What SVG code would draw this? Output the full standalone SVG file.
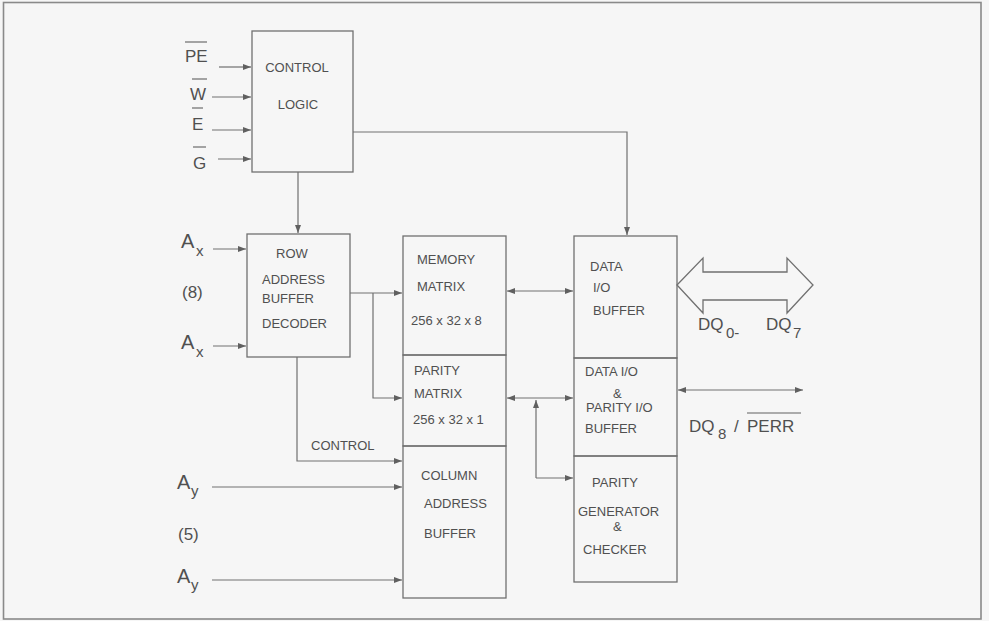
<svg xmlns="http://www.w3.org/2000/svg" width="989" height="621" viewBox="0 0 989 621">
<defs>
<marker id="ah" viewBox="0 0 8 6" refX="8" refY="3" markerWidth="8" markerHeight="6" markerUnits="userSpaceOnUse" orient="auto-start-reverse">
<path d="M0,0 L8,3 L0,6 z" fill="#606060"/>
</marker>
<style>
.bx{fill:none;stroke:#707070;stroke-width:1.3}
.ln{fill:none;stroke:#707070;stroke-width:1.2}
.ar{fill:none;stroke:#707070;stroke-width:1.2;marker-end:url(#ah)}
.ar2{fill:none;stroke:#707070;stroke-width:1.2;marker-end:url(#ah);marker-start:url(#ah)}
.t{font-family:"Liberation Sans",Arial,sans-serif;font-size:13px;fill:#505050}
.big{font-family:"Liberation Sans",Arial,sans-serif;font-size:17px;fill:#505050}
.A{font-family:"Liberation Sans",Arial,sans-serif;font-size:20px;fill:#505050}
.sub{font-family:"Liberation Sans",Arial,sans-serif;font-size:15px;fill:#505050}
.ov{stroke:#606060;stroke-width:1.1}
</style>
</defs>
<rect x="0" y="0" width="989" height="621" fill="#f6f6f6"/>
<rect x="3.5" y="2.5" width="977.5" height="616.5" fill="none" stroke="#8a8a8a" stroke-width="1.6"/>

<g id="control-logic">
<rect class="bx" x="252" y="31" width="101" height="141"/>
<text class="t" x="297" y="71.5" text-anchor="middle">CONTROL</text>
<text class="t" x="298" y="108.5" text-anchor="middle">LOGIC</text>
</g>

<g id="row-address">
<rect class="bx" x="247" y="234" width="103" height="123"/>
<text class="t" x="292" y="257.5" text-anchor="middle">ROW</text>
<text class="t" x="262" y="283.5">ADDRESS</text>
<text class="t" x="262" y="302.5">BUFFER</text>
<text class="t" x="262" y="327.5">DECODER</text>
</g>

<g id="memory-matrix">
<rect class="bx" x="403" y="236" width="103" height="119"/>
<text class="t" x="417" y="263.5">MEMORY</text>
<text class="t" x="417" y="290.5">MATRIX</text>
<text class="t" x="411" y="324.5">256 x 32 x 8</text>
</g>

<g id="parity-matrix">
<rect class="bx" x="403" y="355" width="103" height="91"/>
<text class="t" x="414" y="374.5">PARITY</text>
<text class="t" x="414" y="397.5">MATRIX</text>
<text class="t" x="413" y="423.5">256 x 32 x 1</text>
</g>

<g id="column-address">
<rect class="bx" x="403" y="446" width="103" height="152"/>
<text class="t" x="421" y="479.5">COLUMN</text>
<text class="t" x="424" y="507.5">ADDRESS</text>
<text class="t" x="424" y="537.5">BUFFER</text>
</g>

<g id="data-io">
<rect class="bx" x="574" y="236" width="103" height="122"/>
<text class="t" x="590" y="270.5">DATA</text>
<text class="t" x="593" y="291.5">I/O</text>
<text class="t" x="593" y="314.5">BUFFER</text>
</g>

<g id="data-parity-io">
<rect class="bx" x="574" y="358" width="103" height="98"/>
<text class="t" x="585" y="375.5">DATA I/O</text>
<text class="t" x="613" y="397.5">&amp;</text>
<text class="t" x="586" y="411.5">PARITY I/O</text>
<text class="t" x="585" y="432.5">BUFFER</text>
</g>

<g id="parity-generator">
<rect class="bx" x="574" y="456" width="103" height="126"/>
<text class="t" x="592" y="486.5">PARITY</text>
<text class="t" x="578" y="515.5">GENERATOR</text>
<text class="t" x="613" y="530.5">&amp;</text>
<text class="t" x="583" y="553.5">CHECKER</text>
</g>

<g id="inputs">
<text class="big" x="185" y="62">PE</text>
<line class="ov" x1="185" y1="42" x2="207" y2="42"/>
<text class="big" x="190" y="100">W</text>
<line class="ov" x1="192" y1="79" x2="207" y2="79"/>
<text class="big" x="192" y="130">E</text>
<line class="ov" x1="192" y1="108" x2="203" y2="108"/>
<text class="big" x="193" y="169">G</text>
<line class="ov" x1="193" y1="147" x2="206" y2="147"/>
<text class="A" x="181" y="248">A</text><text class="sub" x="196" y="256">x</text>
<text class="big" x="182" y="298">(8)</text>
<text class="A" x="181" y="349">A</text><text class="sub" x="196" y="357">x</text>
<text class="t" x="311" y="450">CONTROL</text>
<text class="A" x="177" y="489">A</text><text class="sub" x="191" y="496">y</text>
<text class="big" x="178" y="540">(5)</text>
<text class="A" x="177" y="583">A</text><text class="sub" x="191" y="590">y</text>
</g>

<g id="outputs">
<polygon points="677,285 703,258 703,272 787,272 787,258 813,285 787,313 787,300 703,300 703,313" fill="none" stroke="#707070" stroke-width="1.3"/>
<text class="big" x="698" y="330">DQ</text><text class="sub" x="726" y="338">0-</text>
<text class="big" x="766" y="330">DQ</text><text class="sub" x="793" y="338">7</text>
<text class="big" x="689" y="432">DQ</text><text class="sub" x="718" y="439">8</text>
<text class="big" x="734" y="432" font-size="15">/</text>
<text class="big" x="747" y="432">PERR</text>
<line class="ov" x1="747" y1="413" x2="801" y2="413"/>
</g>

<g id="connectors">
<line class="ar" x1="219" y1="67" x2="251" y2="67"/>
<line class="ar" x1="212" y1="97" x2="251" y2="97"/>
<line class="ar" x1="212" y1="130" x2="251" y2="130"/>
<line class="ar" x1="218" y1="159" x2="251" y2="159"/>
<polyline class="ar" points="353,132 627,132 627,235"/>
<line class="ar" x1="298" y1="172" x2="298" y2="233"/>
<line class="ar" x1="213" y1="249" x2="246" y2="249"/>
<line class="ar" x1="213" y1="346" x2="246" y2="346"/>
<line class="ar" x1="350" y1="293" x2="402" y2="293"/>
<polyline class="ar" points="373,293 373,398 402,398"/>
<polyline class="ar" points="297,357 297,461 402,461"/>
<line class="ar" x1="212" y1="487" x2="402" y2="487"/>
<line class="ar" x1="212" y1="580" x2="402" y2="580"/>
<line class="ar2" x1="507" y1="291" x2="573" y2="291"/>
<line class="ar2" x1="507" y1="398" x2="573" y2="398"/>
<line class="ar" x1="536" y1="478" x2="536" y2="400"/>
<line class="ar" x1="536" y1="478" x2="573" y2="478"/>
<line class="ar2" x1="678" y1="390" x2="803" y2="390"/>
</g>
</svg>
